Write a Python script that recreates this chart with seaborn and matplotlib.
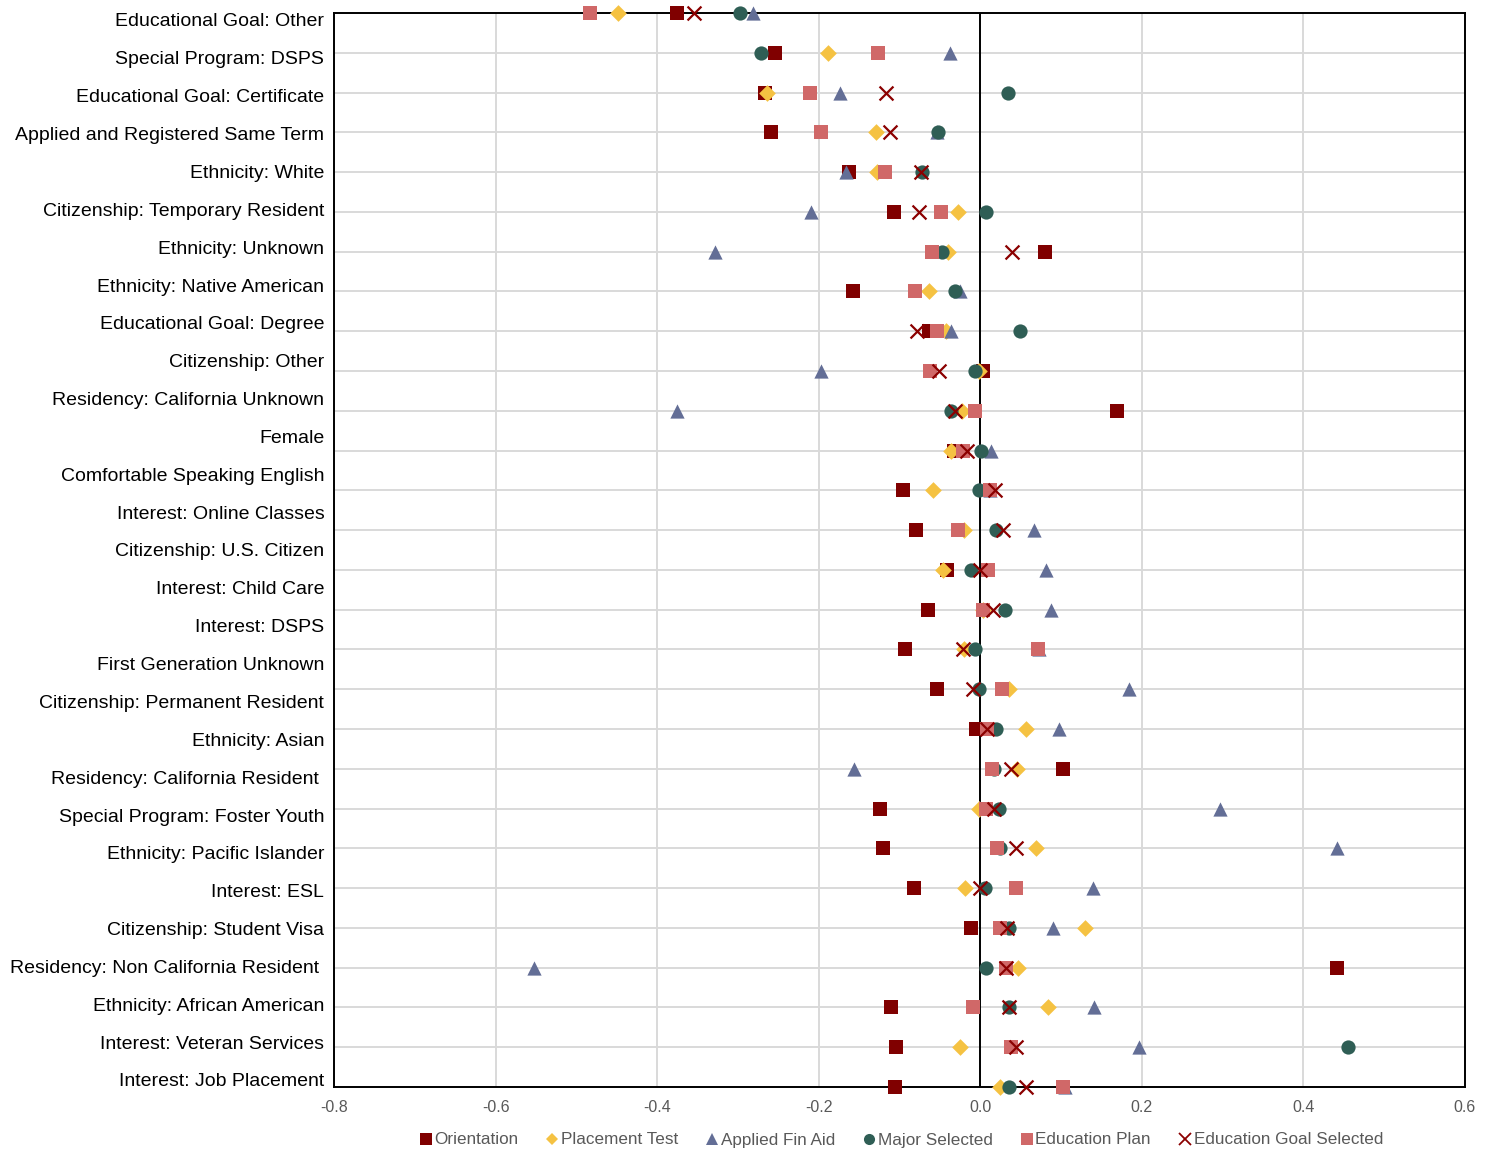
import matplotlib
matplotlib.use("Agg")
import matplotlib.pyplot as plt
from matplotlib.lines import Line2D
import seaborn as sns
import pandas as pd
import numpy as np

sns.set_style("white")
plt.rcParams['font.family'] = ['Liberation Sans', 'DejaVu Sans']

# row labels (29 labels on the category axis)
labels = [
    "Educational Goal: Other", "Special Program: DSPS", "Educational Goal: Certificate",
    "Applied and Registered Same Term", "Ethnicity: White", "Citizenship: Temporary Resident",
    "Ethnicity: Unknown", "Ethnicity: Native American", "Educational Goal: Degree",
    "Citizenship: Other", "Residency: California Unknown", "Female",
    "Comfortable Speaking English", "Interest: Online Classes", "Citizenship: U.S. Citizen",
    "Interest: Child Care", "Interest: DSPS", "First Generation Unknown",
    "Citizenship: Permanent Resident", "Ethnicity: Asian", "Residency: California Resident ",
    "Special Program: Foster Youth", "Ethnicity: Pacific Islander", "Interest: ESL",
    "Citizenship: Student Visa", "Residency: Non California Resident ",
    "Ethnicity: African American", "Interest: Veteran Services", "Interest: Job Placement",
]

# series values, one per marker row (top to bottom)
orientation = [-0.376, -0.254, -0.266, -0.259, -0.163, -0.107, 0.080, -0.158, -0.063, 0.003,
               0.169, -0.033, -0.096, -0.080, -0.041, -0.065, -0.093, -0.053, -0.005, 0.103,
               -0.124, -0.120, -0.082, -0.011, 0.442, -0.111, -0.104, -0.105]
placement = [-0.449, -0.189, -0.264, -0.129, -0.128, -0.027, -0.040, -0.064, -0.043, -0.001,
             -0.023, -0.036, -0.059, -0.020, -0.046, 0.003, -0.020, 0.036, 0.056, 0.046,
             -0.002, 0.069, -0.019, 0.130, 0.047, 0.084, -0.025, 0.024]
fin_aid = [-0.281, -0.038, -0.174, -0.053, -0.166, -0.210, -0.329, -0.025, -0.036, -0.197,
           -0.376, 0.013, 0.012, 0.067, 0.081, 0.088, 0.073, 0.184, 0.098, -0.156,
           0.297, 0.442, 0.140, 0.090, -0.553, 0.141, 0.196, 0.105]
major = [-0.297, -0.272, 0.034, -0.052, -0.072, 0.007, -0.047, -0.031, 0.049, -0.006,
         -0.036, 0.001, -0.002, 0.020, -0.012, 0.030, -0.006, -0.002, 0.019, 0.017,
         0.023, 0.024, 0.006, 0.036, 0.007, 0.035, 0.455, 0.035]
ed_plan = [-0.483, -0.126, -0.211, -0.197, -0.118, -0.049, -0.060, -0.081, -0.054, -0.062,
           -0.007, -0.022, 0.012, -0.028, 0.009, 0.003, 0.071, 0.027, 0.008, 0.014,
           0.007, 0.021, 0.044, 0.024, 0.032, -0.009, 0.038, 0.103]
ed_goal = [-0.354, np.nan, -0.117, -0.112, -0.074, -0.076, 0.039, np.nan, -0.078, -0.051,
           -0.031, -0.017, 0.018, 0.028, 0.000, 0.016, -0.022, -0.009, 0.008, 0.038,
           0.017, 0.044, 0.000, 0.033, 0.032, 0.035, 0.044, 0.056]

x_ticks = [-0.8, -0.6, -0.4, -0.2, 0.0, 0.2, 0.4, 0.6]
x_tick_labels = ["-0.8", "-0.6", "-0.4", "-0.2", "0.0", "0.2", "0.4", "0.6"]

series = {
    "Orientation": orientation,
    "Placement Test": placement,
    "Applied Fin Aid": fin_aid,
    "Major Selected": major,
    "Education Plan": ed_plan,
    "Education Goal Selected": ed_goal,
}
styles = {
    "Orientation": dict(marker='s', color='#800000', s=100),
    "Placement Test": dict(marker='D', color='#F5C242', s=72),
    "Applied Fin Aid": dict(marker='^', color='#636E96', s=105),
    "Major Selected": dict(marker='o', color='#2F5E55', s=105),
    "Education Plan": dict(marker='s', color='#D06868', s=100),
    "Education Goal Selected": dict(marker='x', color='#8B0000', s=100),
}

n_rows = len(orientation)
df = pd.concat([
    pd.DataFrame({'value': vals, 'row': np.arange(n_rows), 'series': name})
    for name, vals in series.items()
], ignore_index=True)

fig = plt.figure(figsize=(14.94, 11.5), dpi=100)
ax = fig.add_axes([334 / 1494, 1 - 1087 / 1150, (1465 - 334) / 1494, (1087 - 13) / 1150])

for name in series:
    st = styles[name]
    sub = df[df['series'] == name].dropna()
    kw = dict(linewidth=1.6) if st['marker'] == 'x' else dict(linewidth=0)
    sns.scatterplot(data=sub, x='value', y='row', ax=ax, marker=st['marker'],
                    color=st['color'], s=st['s'], clip_on=False, zorder=4,
                    legend=False, **kw)

ax.set_xlim(-0.8, 0.6)
ax.set_ylim(n_rows - 1, 0)
ax.set_xticks(x_ticks)
ax.set_xticklabels(x_tick_labels)
ax.set_yticks(range(n_rows))
ax.set_yticklabels([])
ax.grid(True, color='#D9D9D9', linewidth=1.4)
ax.set_axisbelow(True)
ax.axvline(0, color='black', linewidth=1.4, zorder=2)
ax.set_xlabel('')
ax.set_ylabel('')
ax.tick_params(axis='x', length=0, pad=9, labelsize=11.5, labelcolor='#595959')
ax.tick_params(axis='y', length=0)
for sp in ax.spines.values():
    sp.set_color('black')
    sp.set_linewidth(1.4)

# category labels sit on their own scale
ax2 = ax.twinx()
top_px, bot_px = 20, 1080
step = (bot_px - top_px) / (len(labels) - 1)
ax2.set_ylim(len(labels) - 1 + (1087 - bot_px) / step, -(top_px - 13) / step)
ax2.set_yticks(range(len(labels)))
ax2.set_yticklabels(labels)
ax2.yaxis.tick_left()
ax2.tick_params(axis='y', length=0, pad=7, labelsize=14, labelcolor='black')
ax2.grid(False)
for sp in ax2.spines.values():
    sp.set_visible(False)

handles = []
for name in series:
    st = styles[name]
    ms = 8 if st['marker'] != 'D' else 6.5
    handles.append(Line2D([], [], linestyle='', marker=st['marker'], color=st['color'],
                          markersize=ms, markeredgewidth=1.3 if st['marker'] == 'x' else 0,
                          label=name))
fig.legend(handles=handles, loc='center', bbox_to_anchor=(900 / 1494, 1 - 1140 / 1150),
           ncol=6, frameon=False, handletextpad=0.0, columnspacing=1.5,
           handlelength=1.0, fontsize=12.3, labelcolor='#595959')

fig.savefig('out.png', dpi=100)
